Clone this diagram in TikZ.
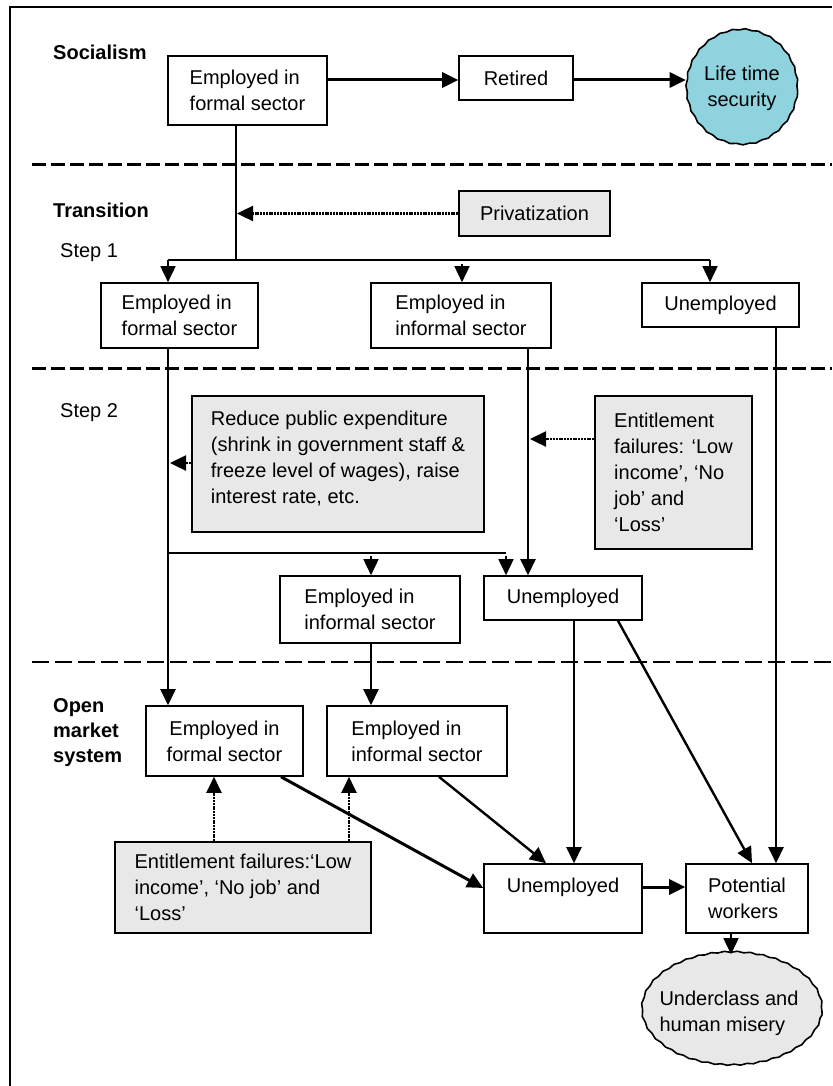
\documentclass[tikz,border=0pt]{standalone}
\usepackage{fontspec}
\setmainfont{Liberation Sans}
\usetikzlibrary{arrows.meta,shapes.geometric,decorations.pathmorphing}
\definecolor{lifecyan}{RGB}{143,211,222}
\definecolor{boxgrey}{RGB}{232,232,232}
\begin{document}
\begin{tikzpicture}[x=1pt,y=-1pt,
  every node/.style={font=\fontsize{20}{26}\selectfont},
  box/.style={draw, line width=1.6pt, align=left, inner sep=0pt},
  greybox/.style={box, fill=boxgrey},
  oval/.style={ellipse, draw, line width=1.6pt, inner sep=0pt, decorate, decoration={snake, amplitude=0.6pt, segment length=13pt}},
  lbl/.style={anchor=west, align=left, inner sep=0pt},
  boldlbl/.style={lbl, font=\fontsize{20}{25}\selectfont\bfseries},
  tip/.style={-{Triangle[length=16pt,width=15pt]}},
  thinline/.style={line width=1.6pt},
  medline/.style={line width=2.4pt},
  heavyline/.style={line width=3pt},
  dotarrow/.style={line width=2.4pt, dash pattern=on 2pt off 0.8pt, -{Triangle[length=16pt,width=15pt]}},
  sepA/.style={line width=3pt, dash pattern=on 14pt off 5pt},
  sepB/.style={line width=1.3pt, dash pattern=on 17pt off 6pt},
]
\useasboundingbox (0,0) rectangle (832,1086);
\fill[white] (0,0) rectangle (832,1086);
% frame
\draw[line width=1.5pt] (10,1086) -- (10,7) -- (832,7);
% separators
\draw[sepA] (32,165) -- (832,165);
\draw[sepA] (32,368) -- (832,368);
\draw[sepB] (32,662) -- (832,662);

% section labels
\node[boldlbl] (lsoc) at (53,52) {Socialism};
\node[boldlbl] (ltrans) at (53,210) {Transition};
\node[lbl] (lstep1) at (60,253) {Step 1};
\node[lbl] (lstep2) at (60,413) {Step 2};
\node[boldlbl] (lopen) at (53,733) {Open\\market\\system};

% socialism row
\node[box, minimum width=159pt, minimum height=69pt] (s1) at (247.5,90.5) {Employed in\\formal sector};
\node[box, minimum width=114pt, minimum height=44pt] (ret) at (516,78) {Retired};
\node[oval, fill=lifecyan, minimum width=111pt, minimum height=115pt] (life) at (742,90) {};
\node[align=center, inner sep=0pt] (lifetext) at (742,88) {Life time\\security};

% transition
\node[greybox, minimum width=151pt, minimum height=45pt] (priv) at (534.5,213.5) {Privatization};
\node[box, minimum width=157pt, minimum height=65pt] (a1) at (179.5,315.5) {Employed in\\formal sector};
\node[box, minimum width=180pt, minimum height=65pt] (b1) at (461,315.5) {Employed in\\informal sector};
\node[box, minimum width=157pt, minimum height=44pt] (c1) at (720.5,305) {Unemployed};

% step 2
\node[greybox, minimum width=292pt, minimum height=136pt] (reduce) at (338,464) {Reduce public expenditure\\(shrink in government staff \&\\freeze level of wages), raise\\interest rate, etc.\\[-12pt]\mbox{}};
\node[greybox, minimum width=157pt, minimum height=153pt] (ent1) at (673.5,472.5) {Entitlement\\failures: ‘Low\\income’, ‘No\\job’ and\\‘Loss’};
\node[box, minimum width=180pt, minimum height=67pt] (minf) at (370,609.5) {Employed in\\informal sector};
\node[box, minimum width=158pt, minimum height=44pt] (munemp) at (563,598) {Unemployed};

% open market
\node[box, align=center, minimum width=157pt, minimum height=70pt] (d) at (224.5,741) {Employed in\\formal sector};
\node[box, minimum width=180pt, minimum height=70pt] (e) at (417,741) {Employed in\\informal sector};
\node[greybox, minimum width=256pt, minimum height=91pt] (ent2) at (243,887.5) {Entitlement failures:‘Low\\income’, ‘No job’ and\\‘Loss’};
\node[box, minimum width=158pt, minimum height=69pt] (unemp2) at (563,898.5) {Unemployed\\\mbox{}};
\node[box, minimum width=122pt, minimum height=69pt] (pot) at (747,898.5) {Potential\\workers};
\node[oval, fill=boxgrey, minimum width=180pt, minimum height=113pt] (under) at (732,1011.5) {};
\node[align=left, inner sep=0pt] (undertext) at (729,1013) {Underclass and\\human misery};

% connectors: socialism
\draw[heavyline, tip] (s1.east |- 0,80) -- (ret.west |- 0,80);
\draw[heavyline, tip] (ret.east |- 0,80) -- (life.west |- 0,80);

% step 1
\coordinate (j1) at (236,260);
\coordinate (bl) at (168,260);
\coordinate (bm) at (462,260);
\coordinate (br) at (710,260);
\draw[thinline] (s1.south -| j1) -- (j1);
\draw[thinline] (bl) -- (br);
\draw[thinline, tip] (bl) -- (a1.north -| bl);
\draw[thinline, tip] ([yshift=-4pt]bm) -- (b1.north -| bm);
\draw[thinline, tip] (br) -- (c1.north -| br);
\draw[dotarrow] (priv.west) -- (priv.west -| 237,0);

% step 2
\coordinate (j2l) at (168,553);
\coordinate (j2m) at (371,553);
\coordinate (j2r) at (506,553);
\draw[medline, tip] (a1.south -| j2l) -- (d.north -| j2l);
\draw[thinline] (j2l) -- (j2r);
\draw[thinline, tip] ([yshift=-3pt]j2m) -- (minf.north -| j2m);
\draw[thinline, tip] ([yshift=-3pt]j2r) -- (munemp.north -| j2r);
\draw[medline, tip] (b1.south -| 528,0) -- (munemp.north -| 528,0);
\draw[dotarrow] (reduce.west |- 0,463) -- (170,463);
\draw[dotarrow] (ent1.west |- 0,439) -- (530,439);
\draw[medline, tip] (c1.south -| 776,0) -- (pot.north -| 776,0);
\draw[medline, tip] (minf.south -| j2m) -- (e.north -| j2m);
\draw[medline, tip] (munemp.south -| 574,0) -- (unemp2.north -| 574,0);
\draw[medline, tip] (munemp.south -| 618,0) -- (pot.north -| 752,0);

% open market
\draw[heavyline, tip] (d.south -| 281,0) -- (unemp2.west |- 0,888);
\draw[medline, tip] (e.south -| 439,0) -- (unemp2.north -| 546,0);
\draw[dotarrow] (ent2.north -| 214,0) -- (d.south -| 214,0);
\draw[dotarrow] (ent2.north -| 349,0) -- (e.south -| 349,0);
\draw[heavyline, tip] (unemp2.east |- 0,887) -- (pot.west |- 0,887);
\draw[thinline, tip] (pot.south -| 731,0) -- (under.north -| 731,0);
\end{tikzpicture}
\end{document}
